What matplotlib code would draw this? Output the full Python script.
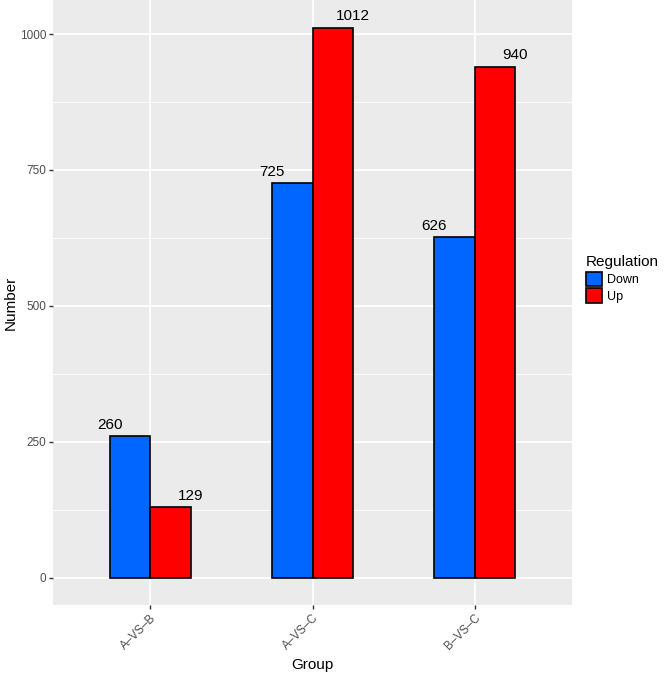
import matplotlib
matplotlib.use("Agg")
import matplotlib.pyplot as plt
import numpy as np
from matplotlib.patches import Patch

plt.rcParams["font.family"] = ["Liberation Sans", "DejaVu Sans"]

groups = ["A\u2013VS\u2013B", "A\u2013VS\u2013C", "B\u2013VS\u2013C"]
down = [260, 725, 626]
up = [129, 1012, 940]
series_names = ["Down", "Up"]
colors = ["#0066FF", "#FF0000"]

W, H = 666, 675
fig = plt.figure(figsize=(W / 100, H / 100), dpi=100)
ax = fig.add_axes([53 / W, 1 - 605 / H, (572 - 53) / W, 605 / H])
ax.set_facecolor("#EBEBEB")

x = np.arange(1, len(groups) + 1)
bw = 0.25
ax.bar(x - bw / 2, down, width=bw, color=colors[0], edgecolor="black", linewidth=1.2, zorder=3)
ax.bar(x + bw / 2, up, width=bw, color=colors[1], edgecolor="black", linewidth=1.2, zorder=3)

for xi, d, u in zip(x, down, up):
    ax.annotate(str(d), (xi - 0.25, d), xytext=(0, 3), textcoords="offset points",
                ha="center", va="bottom", fontsize=11, color="black", zorder=4)
    ax.annotate(str(u), (xi + 0.25, u), xytext=(0, 3), textcoords="offset points",
                ha="center", va="bottom", fontsize=11, color="black", zorder=4)

ymax = max(max(down), max(up))
ax.set_ylim(-0.05 * ymax, 1.05 * ymax)
ax.set_xlim(0.4, 3.6)

ax.set_yticks([0, 250, 500, 750, 1000])
ax.set_yticks([125, 375, 625, 875], minor=True)
ax.set_xticks(x)
ax.set_xticklabels(groups, rotation=45, ha="right", rotation_mode="anchor")

ax.grid(which="major", color="white", linewidth=1.3, zorder=0)
ax.grid(which="minor", axis="y", color="white", linewidth=0.6, zorder=0)
ax.set_axisbelow(True)
for s in ax.spines.values():
    s.set_visible(False)
ax.tick_params(which="major", length=3, width=1, color="#333333", labelsize=8.5, labelcolor="#4D4D4D", pad=2)
ax.tick_params(which="minor", length=0)

ax.set_xlabel("Group", fontsize=11, labelpad=4)
ax.set_ylabel("Number", fontsize=11)
ax.yaxis.set_label_coords(-35 / (572 - 53), 0.5)

handles = [Patch(facecolor=c, edgecolor="black", linewidth=1.2) for c in colors]
leg = fig.legend(handles, series_names, title="Regulation", loc="upper left",
                 bbox_to_anchor=(581 / W, 1 - 250 / H), frameon=False,
                 fontsize=9, title_fontsize=11, handlelength=1.3, handleheight=1.4,
                 handletextpad=0.4, labelspacing=0.2, borderaxespad=0)
leg._legend_box.align = "left"

fig.savefig("out.png", dpi=100)
